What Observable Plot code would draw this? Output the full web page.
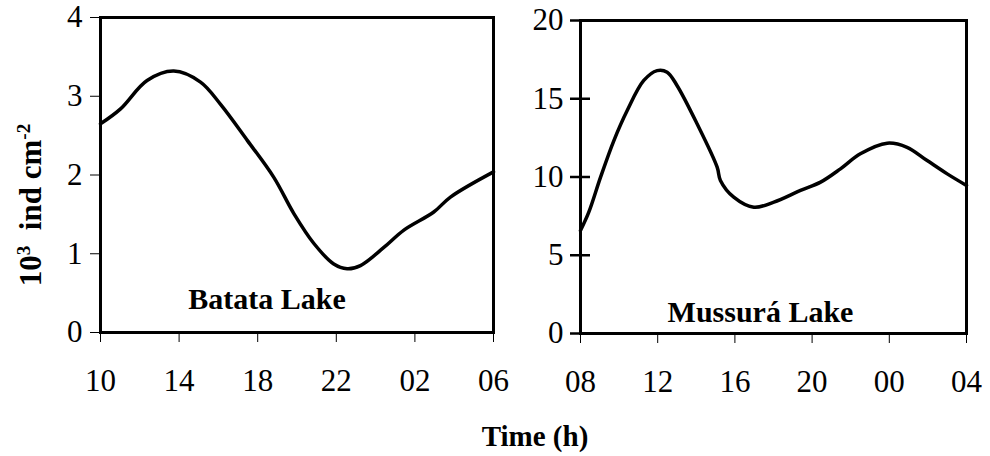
<!DOCTYPE html>
<html><head><meta charset="utf-8">
<script src="https://cdn.jsdelivr.net/npm/d3@7"></script>
<script src="https://cdn.jsdelivr.net/npm/@observablehq/plot@0.6"></script>
<style>
body{margin:0;background:#fff;}
#wrap{position:relative;width:990px;height:456px;font-family:"Liberation Serif","Times New Roman",serif;color:#000;overflow:hidden;}
.panel{position:absolute;top:0;}
.lbl{position:absolute;font-weight:bold;white-space:nowrap;line-height:1;}
sup{font-size:0.62em;}
</style></head>
<body><div id="wrap"></div>
<script>
// Hours since first sample
const batataHours  = [0, 1.02, 2.37, 3.73, 5.09, 6.1, 7.47, 8.82, 9.84, 10.86, 11.87, 12.55, 13.23, 14.42, 15.44, 16.96, 17.81, 20];
const batataValues = [2.65, 2.84, 3.2, 3.32, 3.18, 2.9, 2.44, 1.97, 1.51, 1.13, 0.87, 0.81, 0.85, 1.08, 1.30, 1.53, 1.72, 2.04];
const mussuraHours  = [0, 0.43, 1.04, 1.73, 2.42, 3.28, 3.97, 4.49, 5.0, 6.04, 7.08, 7.25, 7.94, 8.98, 10.02, 11.4, 12.44, 13.47, 14.5, 15.89, 16.92, 17.96, 19.0, 20];
const mussuraValues = [6.58, 7.75, 9.99, 12.33, 14.25, 16.17, 16.8, 16.7, 15.85, 13.4, 10.63, 9.78, 8.71, 8.07, 8.39, 9.14, 9.67, 10.52, 11.48, 12.16, 11.9, 11.05, 10.2, 9.46];
const xTickHours = [0, 4, 8, 12, 16, 20];
const batataTickLabels  = ["10", "14", "18", "22", "02", "06"];
const mussuraTickLabels = ["08", "12", "16", "20", "00", "04"];
const batataYTicks  = [0, 1, 2, 3, 4];
const mussuraYTicks = [0, 5, 10, 15, 20];
const batataTitle = "Batata Lake";
const mussuraTitle = "Mussurá Lake";
const yLabelHTML = "10<sup>3</sup>&nbsp; ind cm<sup>-2</sup>";
const xLabel = "Time (h)";

const FONT = '"Liberation Serif","Times New Roman",serif';
const wrap = document.getElementById("wrap");

function panel(opts) {
  const data = opts.hours.map((h, i) => ({h, v: opts.values[i]}));
  const p = Plot.plot({
    width: opts.width, height: 400,
    marginLeft: opts.ml, marginRight: opts.mr, marginTop: opts.mt, marginBottom: 400 - opts.bottom,
    style: {fontFamily: FONT, fontSize: "31px", background: "transparent", color: "#000", overflow: "visible"},
    x: {domain: [0, 20]},
    y: {domain: opts.ydomain},
    marks: [
      Plot.axisX({ticks: xTickHours, tickFormat: d => opts.xlabels[xTickHours.indexOf(d)], tickSize: 10, tickPadding: 26, strokeWidth: 1, label: null, fontSize: 31}),
      Plot.axisY({ticks: opts.yticks, tickFormat: d => String(d), tickSize: opts.ytickOut, tickPadding: opts.ytickPad, strokeWidth: opts.ytickW, label: null, fontSize: 31}),
      ...(opts.ytickIn ? [Plot.axisY({ticks: opts.yticks, tickSize: -opts.ytickIn, tickFormat: () => "", strokeWidth: opts.ytickW, label: null})] : []),
      Plot.frame({stroke: "#000", strokeWidth: 3}),
      Plot.line(data, {x: "h", y: "v", curve: "catmull-rom", stroke: "#000", strokeWidth: 3.5}),
      Plot.text([opts.title], {frameAnchor: "bottom", dx: opts.tdx, dy: opts.tdy, text: d => d, fontWeight: "bold", fontSize: 30, fill: "#000", fontFamily: FONT})
    ]
  });
  p.classList.add("panel");
  p.style.left = opts.left + "px";
  wrap.appendChild(p);
}

panel({left: 0, width: 500, ml: 100, mr: 7, mt: 17, bottom: 332, hours: batataHours, values: batataValues,
  ydomain: [0, 4], yticks: batataYTicks, xlabels: batataTickLabels, ytickOut: 10, ytickIn: 0, ytickW: 1, ytickPad: 8,
  title: batataTitle, tdx: -30, tdy: -24});
panel({left: 500, width: 490, ml: 80, mr: 24, mt: 20, bottom: 333, hours: mussuraHours, values: mussuraValues,
  ydomain: [0, 20], yticks: mussuraYTicks, xlabels: mussuraTickLabels, ytickOut: 10, ytickIn: 10, ytickW: 2.5, ytickPad: 7,
  title: mussuraTitle, tdx: -13, tdy: -12});

const yl = document.createElement("div");
yl.className = "lbl";
yl.innerHTML = yLabelHTML;
yl.style.cssText += "left:30px;top:205px;font-size:31px;transform:translate(-50%,-50%) rotate(-90deg);";
wrap.appendChild(yl);

const xl = document.createElement("div");
xl.className = "lbl";
xl.textContent = xLabel;
xl.style.cssText += "left:535px;top:436px;font-size:29px;transform:translate(-50%,-50%);";
wrap.appendChild(xl);
</script></body></html>
